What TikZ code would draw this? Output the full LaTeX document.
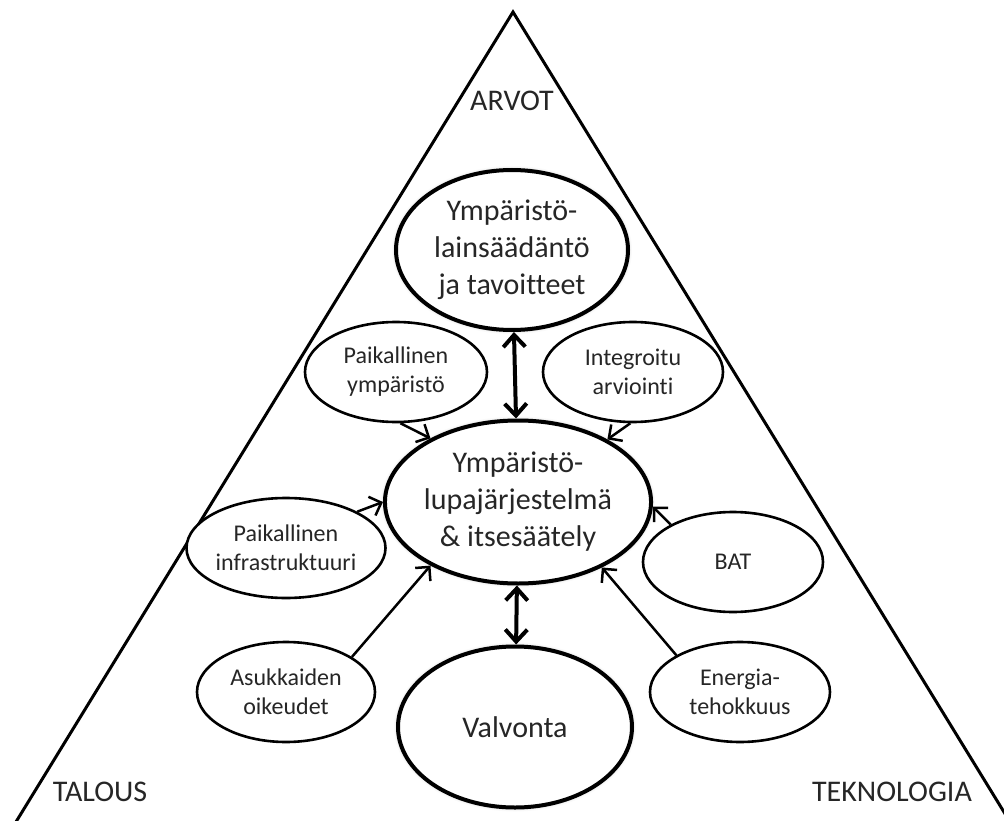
\documentclass[tikz,border=0pt]{standalone}
\usepackage{fontspec}
\setmainfont[Ligatures=NoCommon]{Carlito}
\usepackage{tikz}
\usetikzlibrary{arrows.meta,shapes.geometric,shadows.blur}
\definecolor{ovaltext}{HTML}{262626}

\begin{document}
\begin{tikzpicture}[
  x=1pt, y=-1pt,
  bigoval/.style={ellipse, draw, line width=4pt, fill=white, inner sep=0pt, align=center, text=ovaltext, font=\fontsize{30}{37}\selectfont, blur shadow={shadow xshift=0pt, shadow yshift=0pt, shadow blur radius=4pt, shadow opacity=30}},
  smalloval/.style={ellipse, draw, line width=2.6pt, fill=white, inner sep=0pt, minimum width=180, minimum height=100, align=center, text=ovaltext, font=\fontsize{24}{29}\selectfont},
  corner/.style={text=ovaltext, inner sep=0pt, font=\fontsize{30}{36}\selectfont},
  feed/.style={-{Straight Barb[length=10pt, width=20pt]}, line width=2.5pt},
  link/.style={{Straight Barb[length=12pt, width=22pt]}-{Straight Barb[length=12pt, width=22pt]}, line width=4pt},
]
\useasboundingbox (0,0) rectangle (1004,821);

% triangle
\coordinate (apex) at (513,12);
\coordinate (baseL) at (11,830);
\coordinate (baseR) at (1015,830);
\draw[line width=3pt, line join=miter] (baseL) -- (apex) -- (baseR);

\node[corner] (arvot) at (512,101) {ARVOT};
\node[corner] (talous) at (100,792) {TALOUS};
\node[corner] (tekno) at (892,792) {TEKNOLOGIA};

% main column
\node[bigoval, minimum width=232, minimum height=160] (lain) at (512,250) {Ympäristö-\\lainsäädäntö\\ja tavoitteet};
\node[bigoval, minimum width=244, minimum height=163] (lupa) at (518,502) {Ympäristö-\\lupajärjestelmä\\\& itsesäätely};
\node[bigoval, minimum width=234, minimum height=161] (valv) at (515,727) {Valvonta};

% side factors
\node[smalloval, minimum width=182] (paikymp) at (396,372) {Paikallinen\\ympäristö};
\node[smalloval] (integ) at (633,372) {Integroitu\\arviointi};
\node[smalloval, minimum width=176] (paikinfra) at (286,548) {Paikallinen\\infrastruktuuri};
\node[smalloval] (bat) at (733,562) {BAT};
\node[smalloval, minimum width=178] (asuk) at (286,692) {Asukkaiden\\oikeudet};
\node[smalloval] (energia) at (740,692) {Energia-\\tehokkuus};

\draw[feed] (paikymp.-85) -- (lupa.144);
\draw[feed] (integ.-93) -- (lupa.35);
\draw[feed] (paikinfra.27) -- (lupa.180);
\draw[feed] (asuk.28) -- (lupa.216);
\draw[feed] (bat.149) -- (lupa.358);
\draw[feed] (energia.150) -- (lupa.-38);

\draw[link] (lain) -- (lupa);
\draw[link] (lupa) -- (valv);
\end{tikzpicture}
\end{document}
